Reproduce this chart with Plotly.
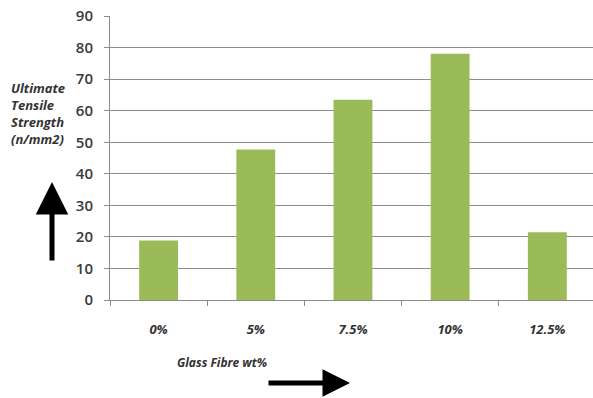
import plotly.graph_objects as go

categories = ["0%", "5%", "7.5%", "10%", "12.5%"]
strength = [18.9, 47.7, 63.5, 78.1, 21.5]
y_ticks = [0, 10, 20, 30, 40, 50, 60, 70, 80, 90]

W, H = 593, 398
L, R, T, B = 110, 0, 16, 98
pw, ph = W - L - R, H - T - B

def px(x):
    return (x - L) / pw

def py(y):
    return (H - B - y) / ph

fig = go.Figure()
fig.add_trace(go.Bar(x=categories, y=strength, marker=dict(color="#9BBB59", line=dict(width=0)),
                     width=0.4))

fig.update_layout(
    width=W, height=H,
    margin=dict(l=L, r=R, t=T, b=B),
    plot_bgcolor="white", paper_bgcolor="white",
    showlegend=False, bargap=0.6,
    xaxis=dict(type="category", range=[-0.5, 4.47], showline=True, linecolor="#8c8c8c",
               ticks="outside", tickson="boundaries", ticklen=5, tickcolor="#8c8c8c",
               showgrid=False, ticklabelstandoff=17,
               tickfont=dict(family="Open Sans", size=13, color="#333333", weight="bold", style="italic")),
    yaxis=dict(range=[0, 90.05], tickvals=y_ticks, showline=True, linecolor="#8c8c8c",
               ticks="outside", ticklen=5, tickcolor="#8c8c8c", gridcolor="#8c8c8c", gridwidth=1,
               zeroline=False, ticklabelstandoff=8,
               tickfont=dict(family="Open Sans", size=15, color="#3a3a3a", weight=600)),
)

fig.add_annotation(xref="paper", yref="paper", x=px(9), y=py(77), xanchor="left", yanchor="top",
                   align="left", showarrow=False,
                   text="Ultimate<br>Tensile<br>Strength<br>(n/mm2)",
                   font=dict(family="Open Sans", size=13, color="#333333", weight="bold", style="italic"))

fig.add_annotation(xref="paper", yref="paper", x=px(222), y=py(362), xanchor="center", yanchor="middle",
                   showarrow=False, text="Glass Fibre wt%",
                   font=dict(family="Open Sans", size=12, color="#333333", weight="bold", style="italic"))

# decorative arrows
fig.add_annotation(xref="paper", yref="paper", x=px(52), y=py(182), ax=0, ay=80, text="",
                   showarrow=True, arrowhead=2, arrowsize=1.3, arrowwidth=5, arrowcolor="black")
fig.add_annotation(xref="paper", yref="paper", x=px(350), y=py(383), ax=-83, ay=0, text="",
                   showarrow=True, arrowhead=2, arrowsize=1.1, arrowwidth=5, arrowcolor="black")

fig.write_html("out.html")
